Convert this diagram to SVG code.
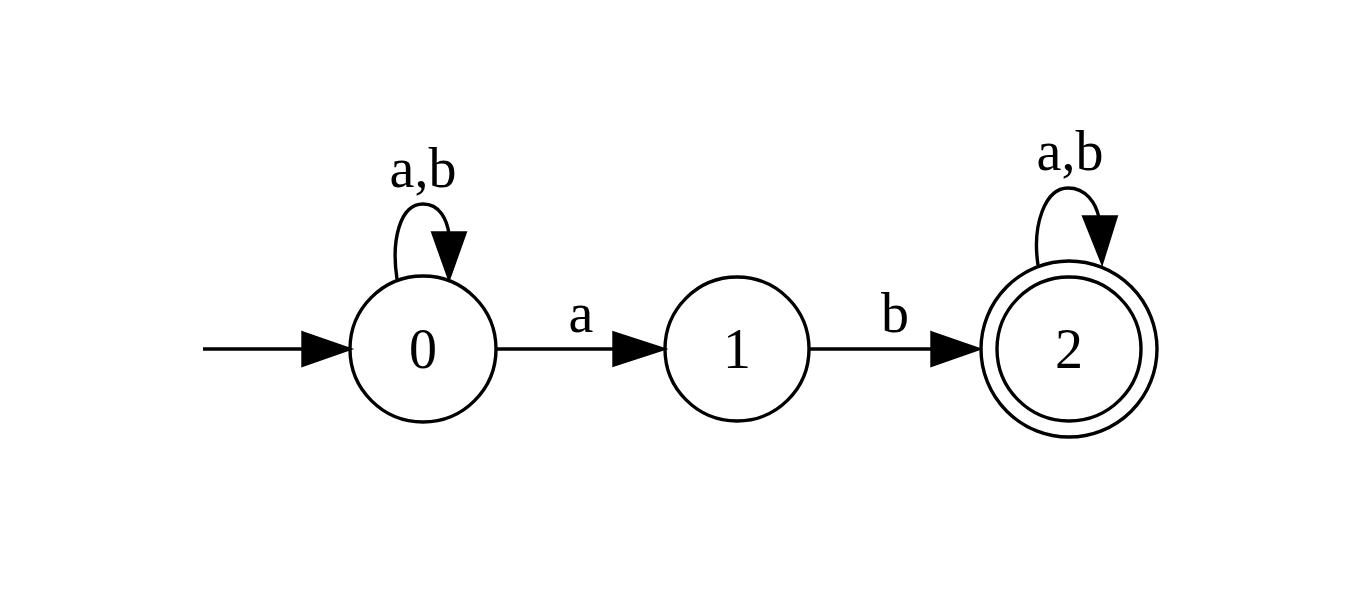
<svg xmlns="http://www.w3.org/2000/svg" width="1372" height="596" viewBox="0 0 1372 596">
<style>
.n{fill:none;stroke:#000;stroke-width:3.4}
.e{fill:none;stroke:#000;stroke-width:3.4}
.h{fill:#000;stroke:#000;stroke-width:3.4}
text{font-family:"Liberation Serif","Times New Roman",serif;font-size:56px;fill:#000;text-anchor:middle}
</style>
<rect width="1372" height="596" fill="#fff"/>
<g id="connectors">
<path class="e" d="M203,349 L305,349"/>
<polygon class="h" points="303,333 349,349 303,365"/>
<path class="e" d="M497,349 L615,349"/>
<polygon class="h" points="614,333 663,349 614,365"/>
<text x="581" y="332">a</text>
<path class="e" d="M810,349 L933,349"/>
<polygon class="h" points="932,333 978,349 932,365"/>
<text x="895" y="332">b</text>
<path class="e" d="M397,279 C391,240 400,204 423,204 C440,204 447,220 449,234"/>
<polygon class="h" points="433,233 465,233 449,278"/>
<text x="423" y="187">a,b</text>
<path class="e" d="M1038,265 C1032,225 1045,188 1068,188 C1086,188 1096,203 1099,218"/>
<polygon class="h" points="1084,217 1116,217 1102,262"/>
<text x="1070" y="170">a,b</text>
</g>
<g id="node0">
<circle class="n" cx="423" cy="349" r="73"/>
<text x="423" y="368">0</text>
</g>
<g id="node1">
<circle class="n" cx="737" cy="349" r="72"/>
<text x="737" y="368">1</text>
</g>
<g id="node2">
<circle class="n" cx="1069" cy="349" r="72"/>
<circle class="n" cx="1069" cy="349" r="88"/>
<text x="1069" y="368">2</text>
</g>
</svg>
